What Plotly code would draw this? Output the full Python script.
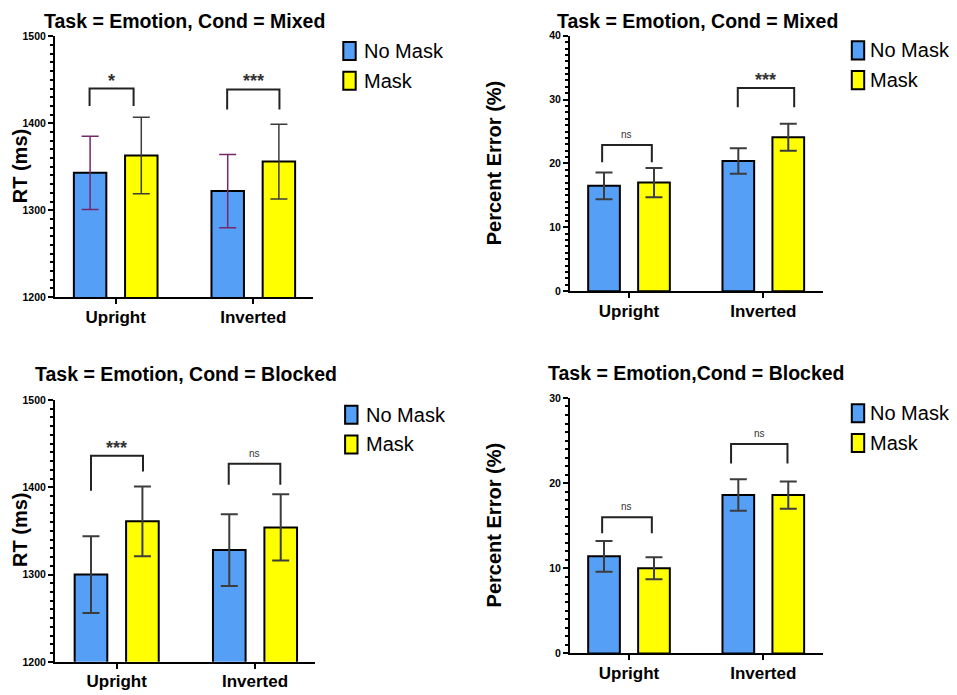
import plotly.graph_objects as go

W, H = 957, 695
FONT = "Liberation Sans, Arial, sans-serif"

categories = ["Upright", "Inverted"]
series_names = ["No Mask", "Mask"]

# Panel 1: RT, Mixed
rt_mixed_nomask = [1343, 1322]
rt_mixed_nomask_err = [42, 42]
rt_mixed_mask = [1363, 1356]
rt_mixed_mask_err = [44, 43]

# Panel 2: Percent error, Mixed
pe_mixed_nomask = [16.5, 20.4]
pe_mixed_nomask_err = [2.1, 2.0]
pe_mixed_mask = [17.0, 24.1]
pe_mixed_mask_err = [2.3, 2.1]

# Panel 3: RT, Blocked
rt_blocked_nomask = [1300, 1328]
rt_blocked_nomask_err = [44, 41]
rt_blocked_mask = [1361, 1354]
rt_blocked_mask_err = [40, 38]

# Panel 4: Percent error, Blocked
pe_blocked_nomask = [11.4, 18.6]
pe_blocked_nomask_err = [1.8, 1.85]
pe_blocked_mask = [10.0, 18.6]
pe_blocked_mask_err = [1.3, 1.6]

# significance brackets: top, left-leg bottom, right-leg bottom, label
sig_mixed_rt = [(1440, 1420, 1420, "*"), (1439, 1416, 1416, "***")]
sig_mixed_pe = [(22.9, 20.2, 20.2, "ns"), (31.8, 28.8, 28.8, "***")]
sig_blocked_rt = [(1436, 1396, 1418, "***"), (1427, 1403, 1403, "ns")]
sig_blocked_pe = [(16.0, 14.1, 14.1, "ns"), (24.6, 22.3, 22.3, "ns")]

titles = ["Task = Emotion, Cond = Mixed", "Task = Emotion, Cond = Mixed",
          "Task = Emotion, Cond = Blocked", "Task = Emotion,Cond = Blocked"]
ytitles = ["RT (ms)", "Percent Error (%)", "RT (ms)", "Percent Error (%)"]

BLUE = "#559FF7"
YELLOW = "#FFFF00"
ERR_DARK = "#3C3C3C"
ERR_PURPLE = "#76286C"

OFF = 0.186
BW = 0.236

# page placement compensation (page is shown offset / slightly squashed)
DX, DY, SY = 8.0, 15.0, 0.981


def fx(x):
    return x - DX


def fy(y):
    return (y - DY) / SY


panels = [
    dict(nm=rt_mixed_nomask, nme=rt_mixed_nomask_err, m=rt_mixed_mask, me=rt_mixed_mask_err,
         sig=sig_mixed_rt, yr=[1200, 1500], dt=100, mdt=10,
         xpx=(55, 312.7), ypx=(37.3, 297.7), cpx=(115.7, 253.3),
         errc=(ERR_PURPLE, ERR_DARK), errw=1.5,
         brx=[(-0.19, 0.13), (-0.19, 0.19)],
         title=(184.5, 12), ytit=(13, 167), leg=(349.5, 52), legtx=362),
    dict(nm=pe_mixed_nomask, nme=pe_mixed_nomask_err, m=pe_mixed_mask, me=pe_mixed_mask_err,
         sig=sig_mixed_pe, yr=[0, 40], dt=10, mdt=1,
         xpx=(570, 822.7), ypx=(36.7, 291.7), cpx=(629, 763.3),
         errc=(ERR_DARK, ERR_DARK), errw=2,
         brx=[(-0.2, 0.17), (-0.19, 0.23)],
         title=(697, 12), ytit=(494, 164), leg=(858, 51.3), legtx=868),
    dict(nm=rt_blocked_nomask, nme=rt_blocked_nomask_err, m=rt_blocked_mask, me=rt_blocked_mask_err,
         sig=sig_blocked_rt, yr=[1200, 1500], dt=100, mdt=10,
         xpx=(55, 315), ypx=(400.3, 661.7), cpx=(116.7, 255),
         errc=(ERR_DARK, ERR_DARK), errw=2,
         brx=[(-0.186, 0.19), (-0.19, 0.183)],
         title=(186, 374.3), ytit=(13, 530), leg=(351.3, 415), legtx=364),
    dict(nm=pe_blocked_nomask, nme=pe_blocked_nomask_err, m=pe_blocked_mask, me=pe_blocked_mask_err,
         sig=sig_blocked_pe, yr=[0, 30], dt=10, mdt=1,
         xpx=(570, 822.7), ypx=(398.3, 653.3), cpx=(629, 763.3),
         errc=(ERR_DARK, ERR_DARK), errw=2,
         brx=[(-0.2, 0.17), (-0.24, 0.18)],
         title=(696, 373.3), ytit=(494, 525.5), leg=(858, 413.5), legtx=868),
]

fig = go.Figure()
annotations = []
shapes = []
xs = [0, 1]
LEG_SPACING = 29.7

for i, p in enumerate(panels):
    k = "" if i == 0 else str(i + 1)
    xa, ya = "x" + k, "y" + k
    c0, c1 = p["cpx"]
    ppu = (c1 - c0)
    xr = [(p["xpx"][0] - c0) / ppu, (p["xpx"][1] - c0) / ppu]

    colors = [BLUE, YELLOW]
    for j, (vals, errs, col, off) in enumerate([
            (p["nm"], p["nme"], BLUE, -OFF), (p["m"], p["me"], YELLOW, OFF)]):
        fig.add_trace(go.Bar(
            x=xs, y=vals, name=series_names[j], xaxis=xa, yaxis=ya,
            showlegend=False,
            offset=off - BW / 2, width=BW,
            marker=dict(color=col, line=dict(color="black", width=2)),
            error_y=dict(type="data", array=errs, visible=True,
                         color=p["errc"][j], thickness=p["errw"], width=8.5),
        ))

    for b, (top, lb, rb, lab) in enumerate(p["sig"]):
        dl, dr = p["brx"][b]
        xl, xrr = xs[b] + dl, xs[b] + dr
        fig.add_trace(go.Scatter(
            x=[xl, xl, xrr, xrr], y=[lb, top, top, rb], mode="lines",
            line=dict(color="#222222", width=2), xaxis=xa, yaxis=ya,
            showlegend=False, hoverinfo="skip"))
        is_ns = lab == "ns"
        annotations.append(dict(
            x=(xl + xrr) / 2, y=top, xref=xa, yref=ya, text=lab, showarrow=False,
            yanchor="bottom", yshift=3 if is_ns else -4,
            font=dict(family=FONT, size=10 if is_ns else 18, color="#333333",
                      weight="normal" if is_ns else "bold")))

    xd = [fx(p["xpx"][0]) / W, fx(p["xpx"][1]) / W]
    yd = [1 - fy(p["ypx"][1]) / H, 1 - fy(p["ypx"][0]) / H]
    fig.layout["xaxis" + k] = dict(
        domain=xd, range=xr, anchor=ya, tickvals=xs, ticktext=categories,
        showline=True, linecolor="black", linewidth=2, ticks="outside",
        ticklen=5, tickwidth=2, tickcolor="black", showgrid=False, zeroline=False,
        ticklabelstandoff=-2,
        tickfont=dict(family=FONT, size=17, color="black", weight="bold"))
    fig.layout["yaxis" + k] = dict(
        domain=yd, range=p["yr"], anchor=xa, dtick=p["dt"], tick0=0,
        showline=True, linecolor="black", linewidth=2, ticks="outside",
        ticklen=5, tickwidth=2, tickcolor="black", showgrid=False, zeroline=False,
        minor=dict(ticks="outside", dtick=p["mdt"], ticklen=3, tickwidth=1.5,
                   tickcolor="black"),
        tickfont=dict(family=FONT, size=10.5, color="black", weight="bold"))

    tx, ty = p["title"]
    annotations.append(dict(
        x=fx(tx) / W, y=1 - max(fy(ty), 7.5) / H, xref="paper", yref="paper",
        text=titles[i], showarrow=False, xanchor="center", yanchor="middle",
        font=dict(family=FONT, size=19.5, color="black", weight="bold")))
    yx, yy = p["ytit"]
    annotations.append(dict(
        x=max(fx(yx), 12) / W, y=1 - fy(yy) / H, xref="paper", yref="paper",
        text=ytitles[i], showarrow=False, xanchor="center", yanchor="middle",
        textangle=-90,
        font=dict(family=FONT, size=20, color="black", weight="bold")))

    # legend (box + label) for each panel
    lx, ly = p["leg"]
    for j, name in enumerate(series_names):
        cy = ly + j * LEG_SPACING
        shapes.append(dict(
            type="rect", xref="paper", yref="paper",
            x0=fx(lx - 6.2) / W, x1=fx(lx + 6.2) / W,
            y0=1 - fy(cy + 9) / H, y1=1 - fy(cy - 9) / H,
            fillcolor=colors[j], line=dict(color="black", width=2)))
        annotations.append(dict(
            x=fx(p["legtx"]) / W, y=1 - fy(cy) / H, xref="paper", yref="paper",
            text=name, showarrow=False, xanchor="left", yanchor="middle",
            font=dict(family=FONT, size=20, color="black")))

fig.update_layout(
    width=W, height=H, autosize=False,
    margin=dict(l=0, r=0, t=0, b=0),
    paper_bgcolor="white", plot_bgcolor="white",
    barmode="overlay", showlegend=False,
    annotations=annotations, shapes=shapes,
)

fig.write_html("out.html")
